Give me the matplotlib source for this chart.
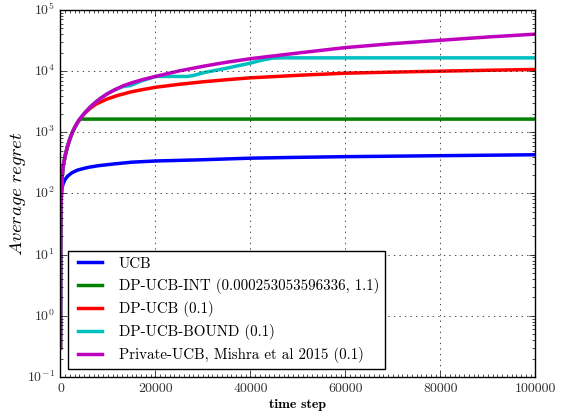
import matplotlib
matplotlib.use("Agg")
import matplotlib.pyplot as plt
from matplotlib.ticker import MultipleLocator, LogLocator

# time steps and read-off regret values for each policy
ucb_t = [1, 20, 50, 100, 250, 500, 950, 1500, 2350, 3500, 5000, 5900, 8000, 11400,
         15000, 20000, 29300, 40000, 50000, 60000, 80000, 100000]
ucb_r = [0.5, 25, 55, 80, 115, 140, 169, 192, 217, 240, 258, 268, 285, 305,
         325, 340, 355, 378, 390, 400, 415, 430]

# shared early part (all private policies overlap at the start)
early_t = [1, 20, 50, 100, 250, 500, 1000, 1500, 2000, 2500, 3000, 3500, 4000]
early_r = [0.3, 12, 30, 60, 140, 260, 420, 600, 790, 1000, 1200, 1410, 1620]

private_t = early_t + [5000, 6200, 7500, 8500, 9800, 11500, 13300, 15000, 17500,
                       20000, 25000, 30000, 35000, 40000, 50500, 60000, 70000,
                       80000, 90000, 100000]
private_r = early_r + [2040, 2570, 3160, 3630, 4240, 5000, 5800, 6450, 7350,
                       8200, 10100, 12000, 14000, 16000, 20000, 24300, 28200,
                       32000, 36200, 40300]

bound_t = early_t + [5000, 6200, 7500, 8500, 9800, 11500, 13300, 14700, 17000,
                     20000, 26700, 28000, 30000, 35000, 40000, 42500, 44800,
                     47000, 60000, 80000, 100000]
bound_r = early_r + [2040, 2570, 3160, 3630, 4240, 5000, 5650, 5810, 6900,
                     8190, 8190, 8500, 9400, 11200, 13550, 15200, 16400,
                     16500, 16500, 16500, 16500]

dpucb_t = early_t + [5000, 6200, 7500, 9800, 12000, 14700, 17000, 20000, 25000,
                     30000, 35000, 40000, 50500, 60000, 70000, 80000, 90000, 100000]
dpucb_r = early_r + [2000, 2450, 2900, 3500, 4000, 4550, 4950, 5450, 6100,
                     6700, 7250, 7780, 8590, 9270, 9650, 10000, 10350, 10660]

int_t = early_t + [4050, 100000]
int_r = early_r + [1645, 1645]

labels = ["UCB",
          "DP-UCB-INT (0.000253053596336, 1.1)",
          "DP-UCB (0.1)",
          "DP-UCB-BOUND (0.1)",
          "Private-UCB, Mishra et al 2015 (0.1)"]

plt.style.use("classic")
plt.rcParams["mathtext.fontset"] = "cm"
plt.rcParams["font.family"] = ["cmr10", "DejaVu Serif"]
plt.rcParams["axes.formatter.use_mathtext"] = True

fig = plt.figure(figsize=(5.67, 4.13), dpi=100, facecolor="white")
ax = fig.add_axes([0.1067, 0.0872, 0.8377, 0.8886])

ax.plot(ucb_t, ucb_r, color="b", linewidth=2.5, label=labels[0])
ax.plot(int_t, int_r, color="g", linewidth=2.5, label=labels[1])
ax.plot(dpucb_t, dpucb_r, color="r", linewidth=2.5, label=labels[2])
ax.plot(bound_t, bound_r, color="c", linewidth=2.5, label=labels[3])
ax.plot(private_t, private_r, color="m", linewidth=2.5, label=labels[4])

ax.set_yscale("log")
ax.set_ylim(0.1, 1e5)
ax.set_xlim(0, 100000)
ax.set_xticks([0, 20000, 40000, 60000, 80000, 100000])
ax.set_xticklabels(["0", "20000", "40000", "60000", "80000", "100000"])
ax.xaxis.set_minor_locator(MultipleLocator(1000))
ax.tick_params(axis="x", which="minor", length=2)
ax.yaxis.set_major_locator(LogLocator(base=10, numticks=10))
ax.tick_params(axis="both", labelsize=10, labelcolor="#333333")
ax.grid(True, linestyle=":", color="black")

ax.set_xlabel("time step", fontsize=10, fontname="cmb10", labelpad=3)
ax.set_ylabel(r"$\mathit{Average\ regret}$", fontsize=13.5, labelpad=-1)

leg = ax.legend(loc="lower left", fontsize=10.8, handlelength=2.2,
                borderaxespad=0.5, fancybox=False, framealpha=1,
                labelspacing=0.48)
leg.get_frame().set_linewidth(1.0)

fig.savefig("out.png", dpi=100, facecolor="white")
